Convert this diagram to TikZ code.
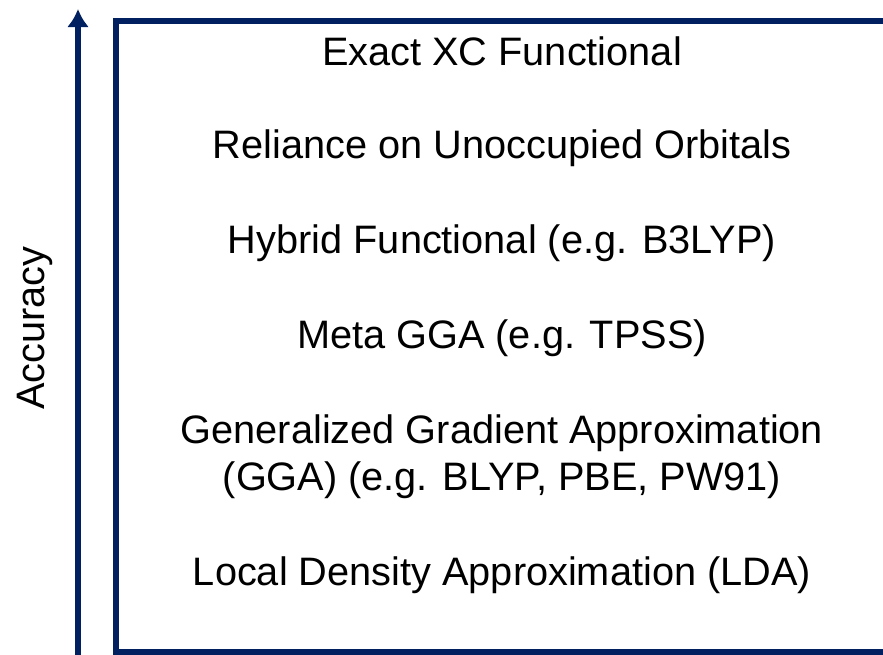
\documentclass[tikz,border=0pt]{standalone}
\usepackage{fontspec}
\setmainfont{Liberation Sans}
\usetikzlibrary{arrows.meta}
\definecolor{navy}{RGB}{0,32,96}
\tikzset{
    level/.style={font=\fontsize{22.6}{26.7}\selectfont, align=center, inner sep=0pt},
    frame/.style={draw=navy, line width=2.9pt}
}

\begin{document}
\begin{tikzpicture}[x=0.2mm, y=-0.2mm]
        \useasboundingbox (0,0) rectangle (883,654);
        \clip (0,0) rectangle (883,654);
        \fill[white] (0,0) rectangle (883,654);

        % osa přesnosti
        \coordinate (base) at (78,680);
        \coordinate (top) at (78,9);
        \draw[frame, -{Latex[length=0.36cm, width=0.44cm]}] (base) -- (top);
        \node[level, rotate=90] (acc) at (35,328) {Accuracy};

        % rámeček
        \draw[frame] (116,680) -- (116,21) -- (900,21);
        \draw[frame] (116,652) -- (900,652);

        % úrovně
        \node[level] (exact) at (502,51) {Exact XC Functional};
        \node[level] (unocc) at (502,148) {Reliance on Unoccupied Orbitals};
        \node[level] (hybrid) at (502,243) {Hybrid Functional (e.g. B3LYP)};
        \node[level] (meta) at (502,338) {Meta GGA (e.g. TPSS)};
        \node[level] (gga) at (502,457) {Generalized Gradient Approximation\\(GGA) (e.g. BLYP, PBE, PW91)};
        \node[level] (lda) at (502,575) {Local Density Approximation (LDA)};
    \end{tikzpicture}
\end{document}
